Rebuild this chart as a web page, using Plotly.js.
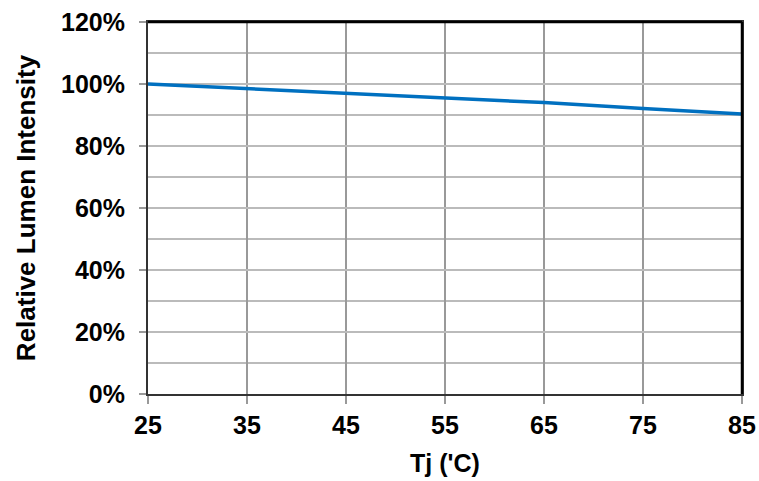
<!DOCTYPE html>
<html>
<head>
<meta charset="utf-8">
<script src="https://cdn.plot.ly/plotly-3.0.1.min.js"></script>
<style>html,body{margin:0;padding:0;background:#fff;}#chart{width:759px;height:481px;}</style>
</head>
<body>
<div id="chart"></div>
<script>
const temperatures = [25, 35, 45, 55, 65, 75, 85];
const relativeIntensity = [1.00, 0.985, 0.97, 0.956, 0.94, 0.921, 0.903];
const xTickVals = [25, 35, 45, 55, 65, 75, 85];
const yTickVals = [0, 0.2, 0.4, 0.6, 0.8, 1.0, 1.2];
const yTickText = ['0%', '20%', '40%', '60%', '80%', '100%', '120%'];

const font = {family: 'Liberation Sans, Arial, sans-serif', size: 25, color: '#000', weight: 'bold'};

Plotly.newPlot('chart', [{
  x: temperatures,
  y: relativeIntensity,
  type: 'scatter',
  mode: 'lines',
  line: {color: '#0070C0', width: 3.5},
  hoverinfo: 'skip'
}], {
  width: 759, height: 481,
  margin: {l: 148, r: 17, t: 22, b: 87},
  paper_bgcolor: '#fff', plot_bgcolor: '#fff',
  showlegend: false,
  xaxis: {
    range: [25, 85], tickvals: xTickVals, ticktext: xTickVals.map(String),
    showgrid: true, gridcolor: '#999', gridwidth: 1.5,
    ticks: 'outside', ticklen: 8, tickcolor: '#999', tickwidth: 1.5,
    showline: true, linecolor: '#333', linewidth: 2, mirror: true,
    zeroline: false, tickfont: font,
    title: {text: "Tj ('C)", font: font, standoff: 16}
  },
  yaxis: {
    range: [0, 1.2], tickvals: yTickVals, ticktext: yTickText,
    showgrid: true, gridcolor: '#bbb', gridwidth: 1.5,
    minor: {dtick: 0.1, tick0: 0, showgrid: true, gridcolor: '#bbb', gridwidth: 1.5},
    ticks: 'outside', ticklen: 7, tickcolor: '#999', tickwidth: 1.5,
    ticklabelstandoff: 9,
    showline: true, linecolor: '#333', linewidth: 2, mirror: true,
    zeroline: false, tickfont: font,
    title: {text: 'Relative Lumen Intensity', font: {family: font.family, size: 26, color: '#000', weight: 'bold'}, standoff: 18}
  },
  shapes: [
    {type: 'line', xref: 'paper', yref: 'paper', x0: 0, x1: 1, y0: 1, y1: 1, line: {color: '#000', width: 2.5}},
    {type: 'line', xref: 'paper', yref: 'paper', x0: 1, x1: 1, y0: 0, y1: 1, line: {color: '#000', width: 2.5}}
  ]
}, {staticPlot: true});
</script>
</body>
</html>
